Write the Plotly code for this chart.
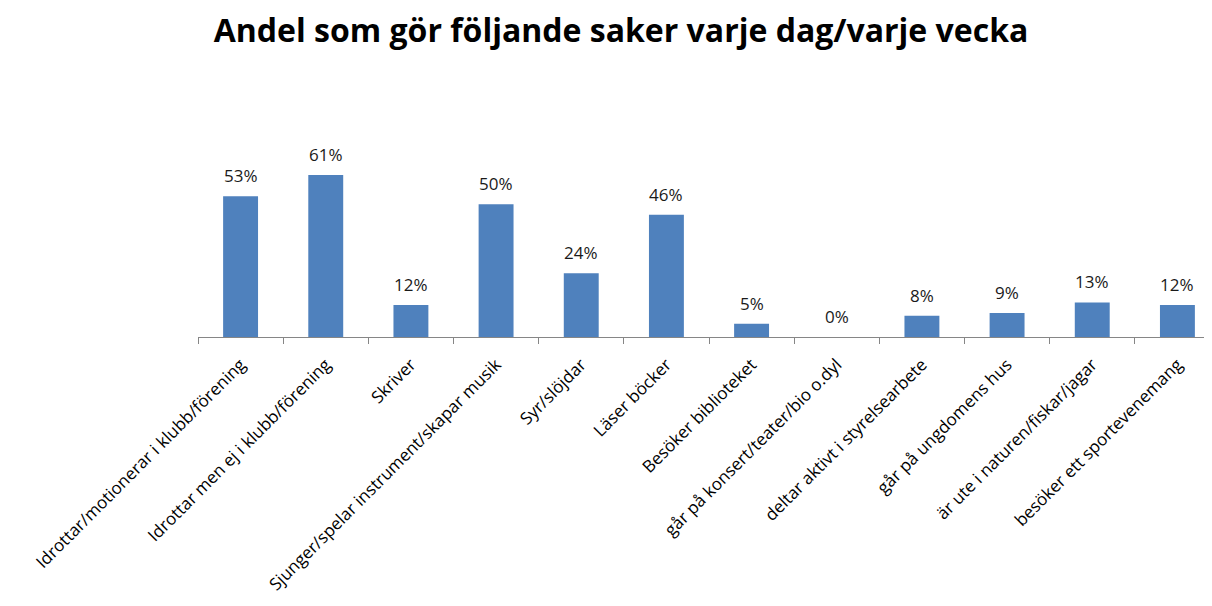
import plotly.graph_objects as go

categories = [
    "Idrottar/motionerar i klubb/förening",
    "Idrottar men ej i klubb/förening",
    "Skriver",
    "Sjunger/spelar instrument/skapar musik",
    "Syr/slöjdar",
    "Läser böcker",
    "Besöker biblioteket",
    "går på konsert/teater/bio o.dyl",
    "deltar aktivt i styrelsearbete",
    "går på ungdomens hus",
    "är ute i naturen/fiskar/jagar",
    "besöker ett sportevenemang",
]
values = [53, 61, 12, 50, 24, 46, 5, 0, 8, 9, 13, 12]
value_labels = ["53%", "61%", "12%", "50%", "24%", "46%", "5%", "0%", "8%", "9%", "13%", "12%"]
title_text = "Andel som gör följande saker varje dag/varje vecka"

# page has 8px body margin; figure is offset by (8, 8)
W, H = 1212, 606
OFF = 8

fig = go.Figure()
fig.add_trace(go.Bar(
    x=categories,
    y=values,
    marker=dict(color="#4F81BD", line=dict(color="#4F81BD", width=0)),
    hoverinfo="skip",
))

for c, v, t in zip(categories, values, value_labels):
    fig.add_annotation(
        x=c, y=v, text=t, showarrow=False,
        yanchor="bottom", yshift=7,
        font=dict(family="Open Sans", size=17, color="#1a1a1a"),
    )

fig.update_layout(
    width=W, height=H,
    margin=dict(l=198 - OFF, r=0, t=151 - OFF, b=H - (337 - OFF)),
    paper_bgcolor="white", plot_bgcolor="white",
    bargap=0.59,
    showlegend=False,
    title=dict(
        text="<b>" + title_text + "</b>",
        x=(621 - OFF) / W, xanchor="center",
        y=1 - (31 - OFF) / H, yanchor="middle",
        font=dict(family="Open Sans", size=32, color="#000000"),
    ),
    xaxis=dict(
        type="category",
        range=[-0.5, 11.5],
        showline=True, linecolor="#868686", linewidth=1,
        ticks="outside", ticklen=6, tickcolor="#868686", tickson="boundaries",
        tickangle=-45,
        ticklabelstandoff=10,
        tickfont=dict(family="Open Sans", size=17, color="#000000"),
        showgrid=False, zeroline=False,
        automargin=False,
    ),
    yaxis=dict(
        range=[0, 70],
        visible=False,
        showgrid=False, zeroline=False,
    ),
)

fig.write_html("out.html")
